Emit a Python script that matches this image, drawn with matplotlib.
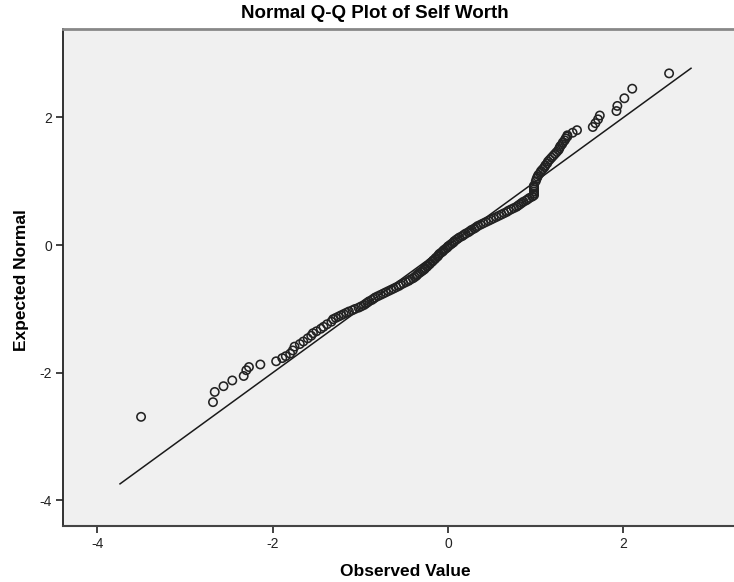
import matplotlib.pyplot as plt

observed = [
    # lower tail
    -3.50, -2.68, -2.66, -2.56, -2.46, -2.33, -2.30, -2.27, -2.14, -1.96,
    -1.89, -1.85, -1.80, -1.77, -1.75, -1.69, -1.65, -1.60, -1.56, -1.54,
    -1.50, -1.45, -1.42, -1.38, -1.33, -1.31,
    # dense middle band
    -1.28, -1.25, -1.22, -1.19, -1.16, -1.13, -1.09, -1.06, -1.02, -0.99,
    -0.96, -0.94, -0.92, -0.90, -0.87, -0.85, -0.83, -0.80, -0.77, -0.74,
    -0.71, -0.68, -0.65, -0.62, -0.59, -0.56, -0.54, -0.51, -0.48, -0.45,
    -0.43, -0.40, -0.38, -0.36, -0.35, -0.33, -0.31, -0.29, -0.27, -0.26,
    -0.24, -0.23, -0.21, -0.20, -0.18, -0.17, -0.15, -0.14, -0.12, -0.11,
    -0.10, -0.08, -0.06, -0.05, -0.03, -0.01, 0.00, 0.02, 0.04, 0.06,
    0.07, 0.09, 0.11, 0.13, 0.16, 0.18, 0.20, 0.23, 0.25, 0.27,
    0.30, 0.32, 0.34, 0.37, 0.40, 0.43, 0.46, 0.49, 0.52, 0.55,
    0.58, 0.61, 0.64, 0.67, 0.69, 0.72, 0.75, 0.78, 0.80, 0.82,
    0.84, 0.86, 0.89, 0.91, 0.93, 0.96, 0.98,
    # ties near 1
    0.98, 0.98, 0.98, 0.98, 0.98, 0.98, 0.98,
    # upper band
    1.00, 1.01, 1.02, 1.03, 1.05, 1.06, 1.08, 1.10, 1.11, 1.13,
    1.14, 1.16, 1.18, 1.20, 1.22, 1.24, 1.26, 1.27, 1.28, 1.30,
    1.31, 1.33, 1.34, 1.36, 1.36, 1.42, 1.47,
    # upper tail
    1.65, 1.68, 1.71, 1.73, 1.92, 1.93, 2.01, 2.10, 2.52,
]
expected = [
    -2.69, -2.46, -2.30, -2.21, -2.12, -2.05, -1.96, -1.91, -1.87, -1.82,
    -1.77, -1.74, -1.70, -1.65, -1.59, -1.55, -1.51, -1.46, -1.42, -1.38,
    -1.35, -1.31, -1.28, -1.24, -1.20, -1.16,
    -1.14, -1.12, -1.10, -1.08, -1.06, -1.04, -1.02, -1.00, -0.98, -0.96,
    -0.94, -0.92, -0.90, -0.88, -0.86, -0.84, -0.82, -0.80, -0.78, -0.76,
    -0.74, -0.72, -0.70, -0.68, -0.66, -0.64, -0.62, -0.60, -0.58, -0.56,
    -0.54, -0.52, -0.50, -0.48, -0.46, -0.44, -0.42, -0.40, -0.38, -0.36,
    -0.34, -0.32, -0.30, -0.28, -0.26, -0.24, -0.22, -0.20, -0.18, -0.16,
    -0.14, -0.12, -0.10, -0.08, -0.06, -0.04, -0.02, 0.00, 0.02, 0.04,
    0.06, 0.08, 0.10, 0.12, 0.14, 0.16, 0.18, 0.20, 0.22, 0.24,
    0.26, 0.28, 0.30, 0.32, 0.34, 0.36, 0.38, 0.40, 0.42, 0.44,
    0.46, 0.48, 0.50, 0.52, 0.54, 0.56, 0.58, 0.60, 0.62, 0.64,
    0.66, 0.68, 0.70, 0.72, 0.74, 0.76, 0.78,
    0.81, 0.84, 0.87, 0.90, 0.92, 0.92, 0.93,
    1.00, 1.04, 1.07, 1.10, 1.13, 1.16, 1.19, 1.22, 1.25, 1.28,
    1.31, 1.34, 1.37, 1.40, 1.43, 1.46, 1.49, 1.52, 1.55, 1.58,
    1.61, 1.64, 1.67, 1.70, 1.72, 1.76, 1.80,
    1.85, 1.91, 1.97, 2.03, 2.10, 2.18, 2.30, 2.45, 2.69,
]
# reference line y = x
line_ends = [-3.74, 2.77]
ticks = [-4, -2, 0, 2]

plt.rcParams['font.family'] = ['Liberation Sans', 'DejaVu Sans']

fig = plt.figure(figsize=(7.34, 5.82), dpi=100)
ax = fig.add_axes([63 / 734, 56 / 582, 671 / 734, 497 / 582])
ax.set_facecolor('#f0f0f0')

ax.plot(line_ends, line_ends, color='#1a1a1a', lw=1.1, zorder=2)
ax.scatter(observed, expected, s=36, facecolors='none', edgecolors='#222222',
           linewidths=1.15, zorder=3)

ax.set_xlim(-4.39, 3.26)
ax.set_ylim(-4.40, 3.385)
ax.set_xticks(ticks)
ax.set_yticks(ticks)
ax.set_xticklabels([str(t) for t in ticks])
ax.set_yticklabels([str(t) for t in ticks])
ax.tick_params(direction='out', length=5, width=1.2, color='#222222',
               labelsize=10, labelcolor='#222222', pad=3)

ax.spines['right'].set_visible(False)
ax.spines['top'].set_color('#888888')
ax.spines['top'].set_linewidth(2)
ax.spines['left'].set_color('#222222')
ax.spines['left'].set_linewidth(1.3)
ax.spines['bottom'].set_color('#444444')
ax.spines['bottom'].set_linewidth(1.5)

fig.text(405 / 734, 1 - 571 / 582, 'Observed Value', ha='center', va='center',
         fontsize=12.5, fontweight='bold')
fig.text(22 / 734, 1 - 280 / 582, 'Expected Normal', ha='center', va='center',
         rotation=90, fontsize=12.5, fontweight='bold')
fig.text(375 / 734, 1 - 13 / 582, 'Normal Q-Q Plot of Self Worth',
         ha='center', va='center', fontsize=13.5, fontweight='bold')

fig.savefig('out.png', dpi=100)
